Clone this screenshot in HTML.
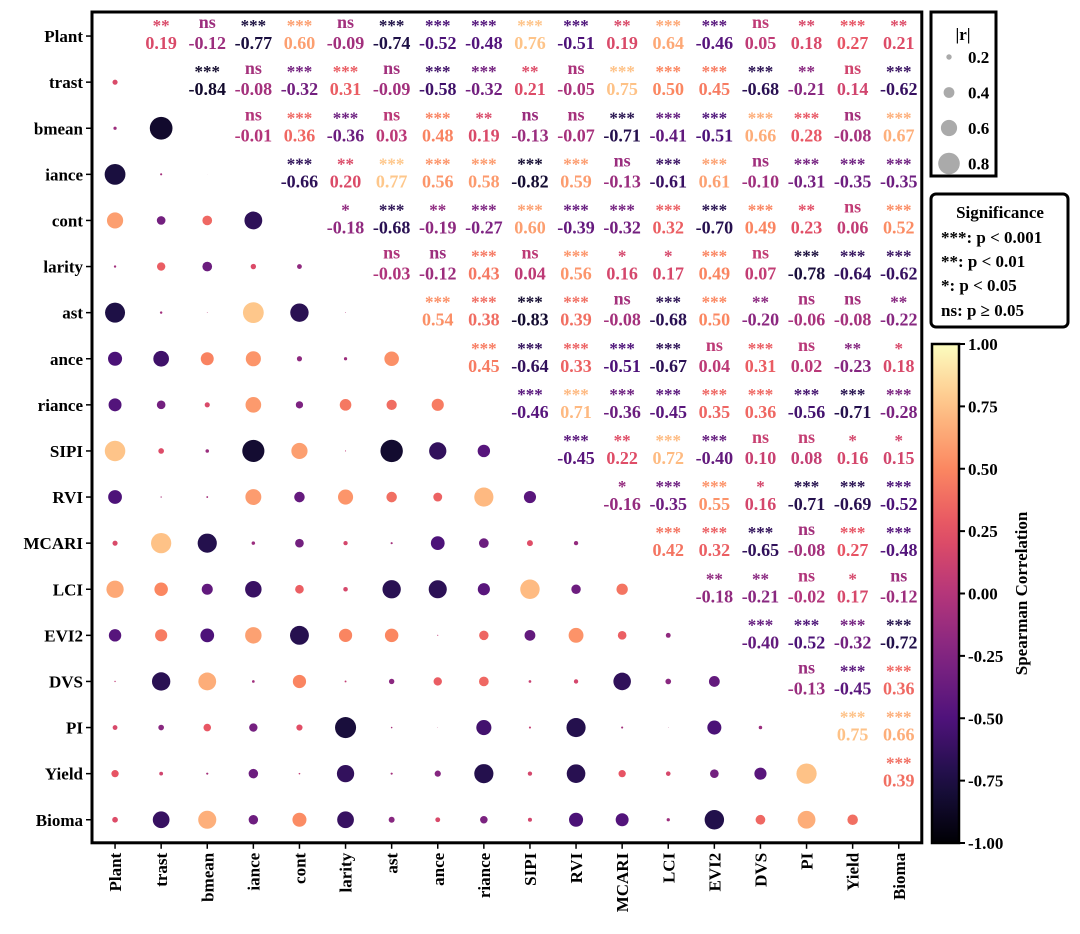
<!DOCTYPE html>
<html><head><meta charset="utf-8"><style>
html,body{margin:0;padding:0;background:#fff;}
svg{display:block;font-family:"Liberation Serif",serif;font-weight:bold;}
</style></head><body>
<svg id="c" width="1080" height="934" viewBox="0 0 1080 934"></svg>
<script>
const labels=["Plant","trast","bmean","iance","cont","larity","ast","ance","riance","SIPI","RVI","MCARI","LCI","EVI2","DVS","PI","Yield","Bioma"];
const rowPlant=[0.19,-0.12,-0.77,0.60,-0.09,-0.74,-0.52,-0.48,0.76,-0.51,0.19,0.64,-0.46,0.05,0.18,0.27,0.21];
const rowTrast=[-0.84,-0.08,-0.32,0.31,-0.09,-0.58,-0.32,0.21,-0.05,0.75,0.50,0.45,-0.68,-0.21,0.14,-0.62];
const rowBmean=[-0.01,0.36,-0.36,0.03,0.48,0.19,-0.13,-0.07,-0.71,-0.41,-0.51,0.66,0.28,-0.08,0.67];
const rowIance=[-0.66,0.20,0.77,0.56,0.58,-0.82,0.59,-0.13,-0.61,0.61,-0.10,-0.31,-0.35,-0.35];
const rowCont=[-0.18,-0.68,-0.19,-0.27,0.60,-0.39,-0.32,0.32,-0.70,0.49,0.23,0.06,0.52];
const rowLarity=[-0.03,-0.12,0.43,0.04,0.56,0.16,0.17,0.49,0.07,-0.78,-0.64,-0.62];
const rowAst=[0.54,0.38,-0.83,0.39,-0.08,-0.68,0.50,-0.20,-0.06,-0.08,-0.22];
const rowAnce=[0.45,-0.64,0.33,-0.51,-0.67,0.04,0.31,0.02,-0.23,0.18];
const rowRiance=[-0.46,0.71,-0.36,-0.45,0.35,0.36,-0.56,-0.71,-0.28];
const rowSIPI=[-0.45,0.22,0.72,-0.40,0.10,0.08,0.16,0.15];
const rowRVI=[-0.16,-0.35,0.55,0.16,-0.71,-0.69,-0.52];
const rowMCARI=[0.42,0.32,-0.65,-0.08,0.27,-0.48];
const rowLCI=[-0.18,-0.21,-0.02,0.17,-0.12];
const rowEVI2=[-0.40,-0.52,-0.32,-0.72];
const rowDVS=[-0.13,-0.45,0.36];
const rowPI=[0.75,0.66];
const rowYield=[0.39];
const sigPlant=["**","ns","***","***","ns","***","***","***","***","***","**","***","***","ns","**","***","**"];
const sigTrast=["***","ns","***","***","ns","***","***","**","ns","***","***","***","***","**","ns","***"];
const sigBmean=["ns","***","***","ns","***","**","ns","ns","***","***","***","***","***","ns","***"];
const sigIance=["***","**","***","***","***","***","***","ns","***","***","ns","***","***","***"];
const sigCont=["*","***","**","***","***","***","***","***","***","***","**","ns","***"];
const sigLarity=["ns","ns","***","ns","***","*","*","***","ns","***","***","***"];
const sigAst=["***","***","***","***","ns","***","***","**","ns","ns","**"];
const sigAnce=["***","***","***","***","***","ns","***","ns","**","*"];
const sigRiance=["***","***","***","***","***","***","***","***","***"];
const sigSIPI=["***","**","***","***","ns","ns","*","*"];
const sigRVI=["*","***","***","*","***","***","***"];
const sigMCARI=["***","***","***","ns","***","***"];
const sigLCI=["**","**","ns","*","ns"];
const sigEVI2=["***","***","***","***"];
const sigDVS=["ns","***","***"];
const sigPI=["***","***"];
const sigYield=["***"];
const cbTicks=[1.00,0.75,0.50,0.25,0.00,-0.25,-0.50,-0.75,-1.00];
const legendSizes=[0.2,0.4,0.6,0.8];

const rows=[rowPlant,rowTrast,rowBmean,rowIance,rowCont,rowLarity,rowAst,rowAnce,rowRiance,rowSIPI,rowRVI,rowMCARI,rowLCI,rowEVI2,rowDVS,rowPI,rowYield];
const sigs=[sigPlant,sigTrast,sigBmean,sigIance,sigCont,sigLarity,sigAst,sigAnce,sigRiance,sigSIPI,sigRVI,sigMCARI,sigLCI,sigEVI2,sigDVS,sigPI,sigYield];

const svg=document.getElementById('c');
const NS='http://www.w3.org/2000/svg';
function mk(t,a,p){const e=document.createElementNS(NS,t);for(const k in a)e.setAttribute(k,a[k]);(p||svg).appendChild(e);return e;}
const magma=[[0,0,0,4],[0.125,28,16,68],[0.25,79,18,123],[0.375,129,37,129],[0.5,181,54,122],[0.625,229,80,100],[0.75,251,135,97],[0.875,254,194,135],[1,252,253,191]];
function cmap(r){const t=Math.max(0,Math.min(1,(r+1)/2));for(let i=1;i<magma.length;i++){if(t<=magma[i][0]){const a=magma[i-1],b=magma[i],f=(t-a[0])/(b[0]-a[0]);return `rgb(${[1,2,3].map(k=>Math.round(a[k]+f*(b[k]-a[k]))).join(',')})`;}}return 'rgb(252,253,191)';}
const X0=92,Y0=13,CW=46.1,N=18;
const cx=i=>X0+CW*(i+0.5), cy=i=>Y0+CW*(i+0.5);
const rad=v=>13.5*Math.abs(v);

for(let i=0;i<N-1;i++){
  for(let k=0;k<rows[i].length;k++){
    const j=i+1+k, v=rows[i][k], s=sigs[i][k], col=cmap(v);
    const st=mk('text',{x:cx(j),y:cy(i)+(s==='ns'?-8:-5),'text-anchor':'middle','font-size':s==='ns'?18:17,fill:col});
    st.textContent=s;
    
    
    const vt=mk('text',{x:cx(j),y:cy(i)+13,'text-anchor':'middle','font-size':18,fill:col});
    vt.textContent=v.toFixed(2);
    
    
    const c=mk('circle',{cx:cx(i),cy:cy(j),r:rad(v),fill:col});
    
    
  }
}
const fr=mk('rect',{x:X0,y:Y0-1,width:CW*N,height:CW*N+1,fill:'none',stroke:'#000','stroke-width':3});

for(let i=0;i<N;i++){
  mk('line',{x1:X0-6,x2:X0,y1:cy(i),y2:cy(i),stroke:'#000','stroke-width':1.5});
  const yl=mk('text',{x:X0-9,y:cy(i)+6,'text-anchor':'end','font-size':17});
  yl.textContent=labels[i];
  
  mk('line',{x1:cx(i),x2:cx(i),y1:Y0+CW*N,y2:Y0+CW*N+6,stroke:'#000','stroke-width':1.5});
  const xl=mk('text',{x:0,y:0,'text-anchor':'end','font-size':17,transform:`translate(${cx(i)+6},${Y0+CW*N+10}) rotate(-90)`});
  xl.textContent=labels[i];
  
}
const sl=mk('g',{});

mk('rect',{x:931,y:12,width:65,height:164,fill:'#fff',stroke:'#000','stroke-width':3},sl);
const slt=mk('text',{x:963,y:40,'text-anchor':'middle','font-size':17},sl);slt.textContent='|r|';
legendSizes.forEach((v,i)=>{
  const y=57+i*35.5;
  const c=mk('circle',{cx:949,cy:y,r:rad(v),fill:'#aaa'},sl);
  
  const t=mk('text',{x:968,y:y+6,'font-size':17},sl);t.textContent=v.toFixed(1);
});
const sg=mk('g',{});

mk('rect',{x:931,y:194,width:137,height:133,rx:5,fill:'#fff',stroke:'#000','stroke-width':3},sg);
[['Significance',1000,218,'middle'],['***: p < 0.001',941,243,'start'],['**: p < 0.01',941,267,'start'],['*: p < 0.05',941,291,'start'],['ns: p ≥ 0.05',941,316,'start']].forEach(a=>{
  const t=mk('text',{x:a[1],y:a[2],'text-anchor':a[3],'font-size':17},sg);t.textContent=a[0];
});
const defs=mk('defs',{});
const lg=mk('linearGradient',{id:'g',x1:0,y1:1,x2:0,y2:0},defs);
for(let i=0;i<=20;i++){mk('stop',{offset:i/20,'stop-color':cmap(-1+i/10)},lg);}
const CB0=344,CB1=843;
const cb=mk('rect',{x:932,y:CB0,width:27,height:CB1-CB0,fill:'url(#g)',stroke:'#000','stroke-width':2.5});

cbTicks.forEach(v=>{
  const y=CB0+(1-v)/2*(CB1-CB0);
  mk('line',{x1:959,x2:965,y1:y,y2:y,stroke:'#000','stroke-width':2});
  const t=mk('text',{x:968,y:y+6,'font-size':17});t.textContent=v.toFixed(2);
  
});
const cbl=mk('text',{x:0,y:0,'text-anchor':'middle','font-size':17,transform:`translate(1027,${(CB0+CB1)/2}) rotate(-90)`});
cbl.textContent='Spearman Correlation';

</script>
</body></html>
